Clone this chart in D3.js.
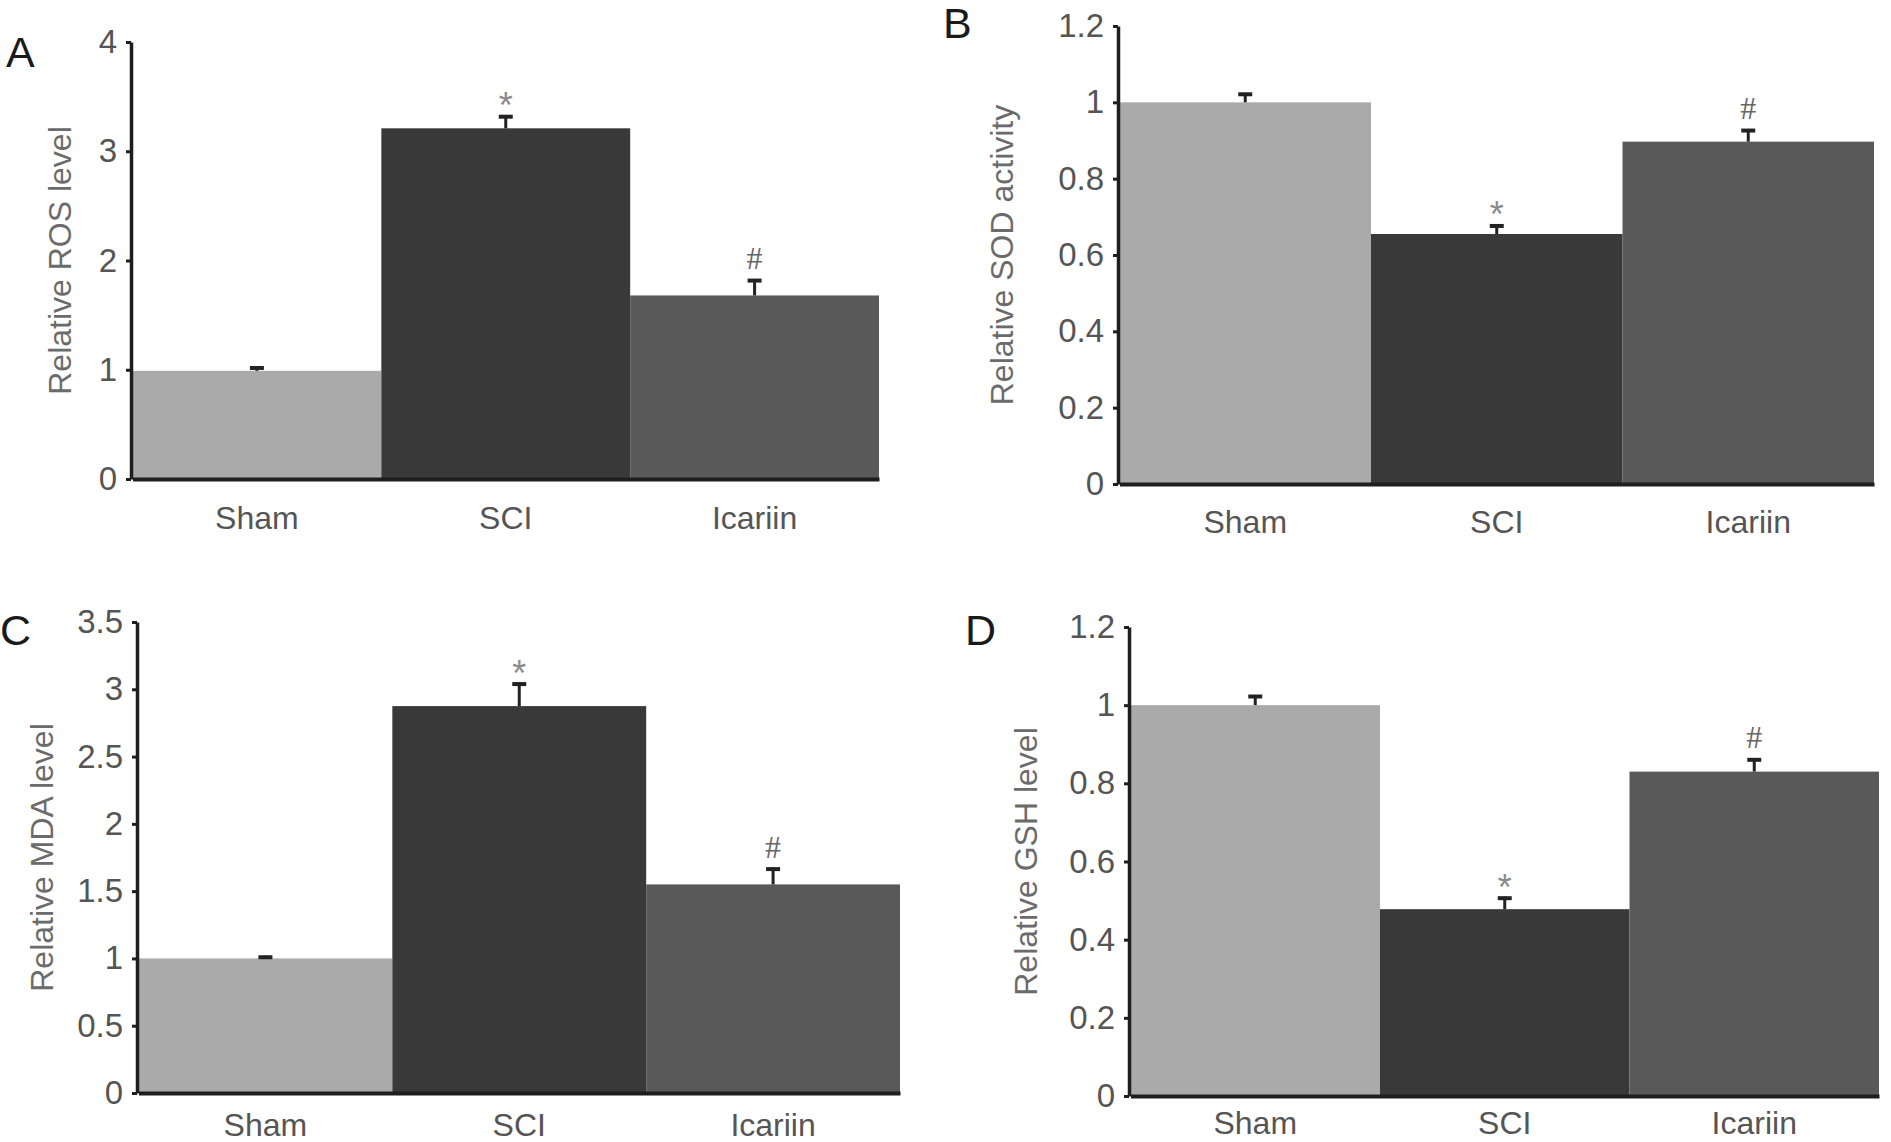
<!DOCTYPE html>
<html>
<head>
<meta charset="utf-8">
<script src="https://cdn.jsdelivr.net/npm/d3@7"></script>
<style>
  html, body { margin: 0; padding: 0; background: #fff; }
  svg { display: block; }
</style>
</head>
<body>
<svg id="chart" width="1891" height="1142"></svg>
<script>
// groups shared by all four panels
const categories = ['Sham', 'SCI', 'Icariin'];
const marks = ['', '*', '#'];

// A: ROS
const rosMean = [0.99, 3.21, 1.68];
const rosErr = [0.04, 0.12, 0.15];
// B: SOD
const sodMean = [1.0, 0.655, 0.897];
const sodErr = [0.025, 0.025, 0.033];
// C: MDA
const mdaMean = [1.0, 2.875, 1.55];
const mdaErr = [0.02, 0.175, 0.125];
// D: GSH
const gshMean = [1.0, 0.478, 0.83];
const gshErr = [0.026, 0.032, 0.034];

const rosTicks = [0, 1, 2, 3, 4];
const sodTicks = [0, 0.2, 0.4, 0.6, 0.8, 1, 1.2];
const mdaTicks = [0, 0.5, 1, 1.5, 2, 2.5, 3, 3.5];
const gshTicks = [0, 0.2, 0.4, 0.6, 0.8, 1, 1.2];

const colors = ['#aaaaaa', '#393939', '#595959'];
const font = '"Liberation Sans", Arial, Helvetica, sans-serif';

const svg = d3.select('#chart');

// panel layout (pixels)
const panels = [
  {letter: 'A', lx: 6, ly: 67, title: 'Relative ROS level', mean: rosMean, err: rosErr, ticks: rosTicks,
   ax: 131, xEnd: 879, y0: 479, yTop: 42, tx: 60, labelPad: 27},
  {letter: 'B', lx: 943, ly: 38, title: 'Relative SOD activity', mean: sodMean, err: sodErr, ticks: sodTicks,
   ax: 1118, xEnd: 1874, y0: 484, yTop: 26, tx: 1002, labelPad: 26},
  {letter: 'C', lx: 0, ly: 645, title: 'Relative MDA level', mean: mdaMean, err: mdaErr, ticks: mdaTicks,
   ax: 137, xEnd: 900, y0: 1093, yTop: 622, tx: 42, labelPad: 20},
  {letter: 'D', lx: 965, ly: 645, title: 'Relative GSH level', mean: gshMean, err: gshErr, ticks: gshTicks,
   ax: 1129, xEnd: 1879, y0: 1096, yTop: 627, tx: 1026, labelPad: 15}
];

panels.forEach((p) => {
  const g = svg.append('g').classed('panel', true);
  const yMax = p.ticks[p.ticks.length - 1];

  const x = d3.scaleBand()
      .domain(categories)
      .range([p.ax + 1.5, p.xEnd])
      .padding(0);
  const y = d3.scaleLinear()
      .domain([0, yMax])
      .range([p.y0, p.yTop]);

  const data = categories.map((c, i) => ({cat: c, mean: p.mean[i], err: p.err[i], mark: marks[i], color: colors[i]}));

  // bars
  g.selectAll('rect.bar')
      .data(data)
      .enter()
      .append('rect')
      .classed('bar', true)
      .attr('x', (d) => x(d.cat))
      .attr('width', x.bandwidth())
      .attr('y', (d) => y(d.mean))
      .attr('height', (d) => p.y0 - y(d.mean))
      .style('fill', (d) => d.color);

  // error bars (upper only)
  const eb = g.selectAll('g.err')
      .data(data)
      .enter()
      .append('g')
      .classed('err', true);
  eb.append('line')
      .attr('x1', (d) => x(d.cat) + x.bandwidth() / 2)
      .attr('x2', (d) => x(d.cat) + x.bandwidth() / 2)
      .attr('y1', (d) => y(d.mean))
      .attr('y2', (d) => y(d.mean + d.err))
      .style('stroke', '#222')
      .style('stroke-width', 3);
  eb.append('line')
      .attr('x1', (d) => x(d.cat) + x.bandwidth() / 2 - 7)
      .attr('x2', (d) => x(d.cat) + x.bandwidth() / 2 + 7)
      .attr('y1', (d) => y(d.mean + d.err) + 1.5)
      .attr('y2', (d) => y(d.mean + d.err) + 1.5)
      .style('stroke', '#222')
      .style('stroke-width', 4);

  // significance marks
  g.selectAll('text.mark')
      .data(data.filter((d) => d.mark))
      .enter()
      .append('text')
      .classed('mark', true)
      .text((d) => d.mark)
      .attr('x', (d) => x(d.cat) + x.bandwidth() / 2)
      .attr('y', (d) => y(d.mean + d.err) - (d.mark === '#' ? 10 : -3))
      .attr('text-anchor', 'middle')
      .style('font-family', (d) => d.mark === '#' ? '"Liberation Serif", "Times New Roman", serif' : font)
      .style('font-size', (d) => d.mark === '#' ? '32px' : '36px')
      .style('fill', (d) => d.mark === '#' ? '#666' : '#8a8a8a');

  // y axis
  const yAxis = g.append('g')
      .attr('transform', `translate(${p.ax},0)`)
      .call(d3.axisLeft(y)
        .tickValues(p.ticks)
        .tickSize(5)
        .tickSizeOuter(0)
        .tickPadding(9)
        .tickFormat(d3.format('~g')));
  yAxis.select('.domain').style('stroke', '#1e1e1e').style('stroke-width', 3.5);
  yAxis.selectAll('.tick line').style('stroke', '#1e1e1e').style('stroke-width', 3);
  yAxis.selectAll('.tick text')
      .style('font-family', font)
      .style('font-size', '33px')
      .style('fill', '#555');

  // x axis
  const xAxis = g.append('g')
      .attr('transform', `translate(0,${p.y0})`)
      .call(d3.axisBottom(x)
        .tickSize(0)
        .tickSizeOuter(0)
        .tickPadding(p.labelPad));
  xAxis.select('.domain').style('stroke', '#1e1e1e').style('stroke-width', 4);
  xAxis.selectAll('.tick text')
      .style('font-family', font)
      .style('font-size', '32px')
      .style('fill', '#555');

  // y title
  g.append('text')
      .text(p.title)
      .attr('transform', `translate(${p.tx},${(p.y0 + p.yTop) / 2}) rotate(-90)`)
      .attr('text-anchor', 'middle')
      .attr('dominant-baseline', 'central')
      .style('font-family', font)
      .style('font-size', '32px')
      .style('fill', '#6b6b6b');

  // panel letter
  g.append('text')
      .text(p.letter)
      .attr('x', p.lx)
      .attr('y', p.ly)
      .style('font-family', font)
      .style('font-size', '43px')
      .style('fill', '#1a1a1a');
});
</script>
</body>
</html>
